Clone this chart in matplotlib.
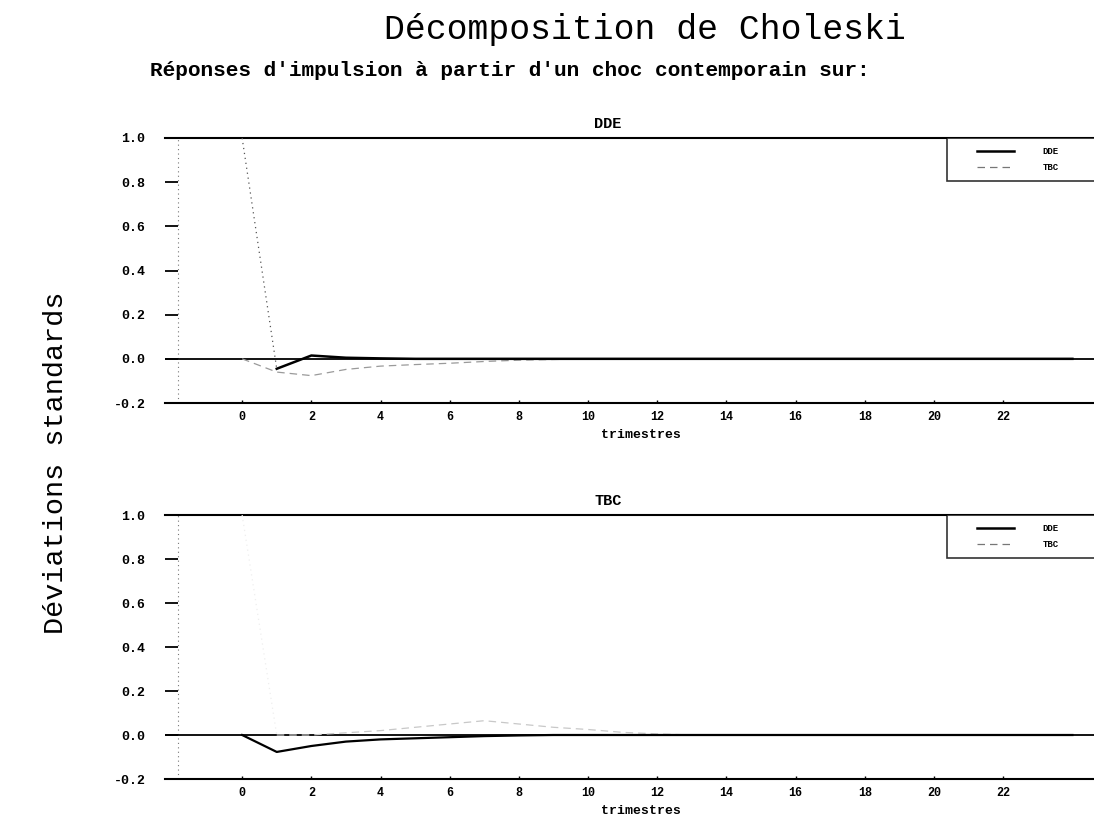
import matplotlib
matplotlib.use('Agg')
import matplotlib.pyplot as plt
from matplotlib.lines import Line2D
from matplotlib.legend_handler import HandlerLine2D


# Horizon in quarters
quarters = list(range(25))

# Responses to a contemporaneous shock on DDE
dde_shock_dde = [1.0, -0.045, 0.015, 0.005, 0.002, 0.0, 0.0, 0.0, 0.0, 0.0, 0.0, 0.0, 0.0,
                 0.0, 0.0, 0.0, 0.0, 0.0, 0.0, 0.0, 0.0, 0.0, 0.0, 0.0, 0.0]
dde_shock_tbc = [0.0, -0.06, -0.076, -0.048, -0.033, -0.026, -0.02, -0.012, -0.006, -0.003, 0.0,
                 0.0, 0.0, 0.0, 0.0, 0.0, 0.0, 0.0, 0.0, 0.0, 0.0, 0.0, 0.0, 0.0, 0.0]

# Responses to a contemporaneous shock on TBC
tbc_shock_dde = [0.0, -0.077, -0.05, -0.03, -0.02, -0.015, -0.01, -0.005, -0.002, 0.0, 0.0,
                 0.0, 0.0, 0.0, 0.0, 0.0, 0.0, 0.0, 0.0, 0.0, 0.0, 0.0, 0.0, 0.0, 0.0]
tbc_shock_tbc = [1.0, 0.0, 0.0, 0.01, 0.02, 0.035, 0.05, 0.065, 0.05, 0.035, 0.025, 0.012, 0.005,
                 0.0, 0.0, 0.0, 0.0, 0.0, 0.0, 0.0, 0.0, 0.0, 0.0, 0.0, 0.0]

xticks = list(range(0, 24, 2))
yticks = [-0.2, 0.0, 0.2, 0.4, 0.6, 0.8, 1.0]
ytick_labels = ['-0.2', '0.0', '0.2', '0.4', '0.6', '0.8', '1.0']

mono = 'Liberation Mono'

W, H = 1094, 823
fig = plt.figure(figsize=(W / 100, H / 100), dpi=100)
fig.patch.set_facecolor('white')


def px_axes(left, top, right, bottom):
    return fig.add_axes([left / W, 1 - bottom / H, (right - left) / W, (bottom - top) / H])


def draw_panel(ax, title, own, other, own_is_dde, lead_color, tbc_color):
    # the impact jump (t=0 -> t=1) prints much fainter than the rest
    dde = own if own_is_dde else other
    tbc = other if own_is_dde else own
    ax.axhline(0.0, color='black', lw=1.3, zorder=2)
    ax.axvline(-1.85, color='#777777', lw=0.8, ls=(0, (1, 3)), zorder=1)

    if own_is_dde:
        ax.plot(quarters[:2], dde[:2], color=lead_color, lw=0.9, ls=(0, (1, 3)), zorder=3)
        ax.plot(quarters[1:], dde[1:], color='black', lw=1.8, zorder=4)
        ax.plot(quarters, tbc, color=tbc_color, lw=0.9, ls=(0, (6, 4)), zorder=3)
    else:
        ax.plot(quarters[:2], tbc[:2], color=lead_color, lw=0.9, ls=(0, (1, 3)), zorder=3)
        ax.plot(quarters[1:], tbc[1:], color=tbc_color, lw=0.9, ls=(0, (6, 4)), zorder=3)
        ax.plot(quarters, dde, color='black', lw=1.6, zorder=4)

    ax.set_xlim(-2.23, 25.26)
    ax.set_ylim(-0.2, 1.0)
    for side in ['left', 'right']:
        ax.spines[side].set_visible(False)
    for side in ['top', 'bottom']:
        ax.spines[side].set_linewidth(1.5)

    ax.set_yticks(yticks)
    ax.set_yticklabels(ytick_labels, fontfamily=mono, fontsize=9.5, fontweight='bold')
    ax.tick_params(axis='y', direction='in', length=9.5, width=1.3, pad=14)
    ax.set_xticks(xticks)
    ax.set_xticklabels([str(t) for t in xticks], fontfamily=mono, fontsize=8.5, fontweight='bold')
    ax.tick_params(axis='x', direction='in', length=2, width=1, pad=6)
    ax.set_xlabel('trimestres', fontfamily=mono, fontsize=9.5, fontweight='bold', labelpad=4)
    ax.set_title(title, fontfamily=mono, fontsize=11, fontweight='bold', x=0.466, pad=7)

    handles = [Line2D([], [], color='black', lw=1.8),
               Line2D([], [], color='#777777', lw=0.9, ls=(0, (6, 4)))]
    leg = ax.legend(handles, ['DDE', 'TBC'], loc='upper left',
                    bbox_to_anchor=(0.8223, 0.0, 0.19, 1.0), mode='expand',
                    prop={'family': mono, 'size': 6.5, 'weight': 'bold'}, frameon=True,
                    fancybox=False, handlelength=6.4, handletextpad=3.2, borderaxespad=0,
                    borderpad=1.0, labelspacing=0.8,
                    handler_map={Line2D: HandlerLine2D(xpad=2.3)})
    leg.get_frame().set_edgecolor('black')
    leg.get_frame().set_linewidth(1.2)
    leg.set_zorder(5)


ax_top = px_axes(165, 138, 1116, 403)
draw_panel(ax_top, 'DDE', dde_shock_dde, dde_shock_tbc, True, '#555555', '#9a9a9a')

ax_bot = px_axes(165, 515, 1116, 779)
draw_panel(ax_bot, 'TBC', tbc_shock_tbc, tbc_shock_dde, False, '#eeeeee', '#c8c8c8')

fig.text(645 / W, 1 - 30 / H, 'Décomposition de Choleski', fontfamily=mono, fontsize=25,
         ha='center', va='center')
fig.text(510 / W, 1 - 70 / H, "Réponses d'impulsion à partir d'un choc contemporain sur:",
         fontfamily=mono, fontsize=15.2, fontweight='bold', ha='center', va='center')
fig.text(56 / W, 1 - 463 / H, 'Déviations standards', fontfamily=mono, fontsize=20.5,
         rotation=90, ha='center', va='center')

fig.savefig('out.png', dpi=100)
